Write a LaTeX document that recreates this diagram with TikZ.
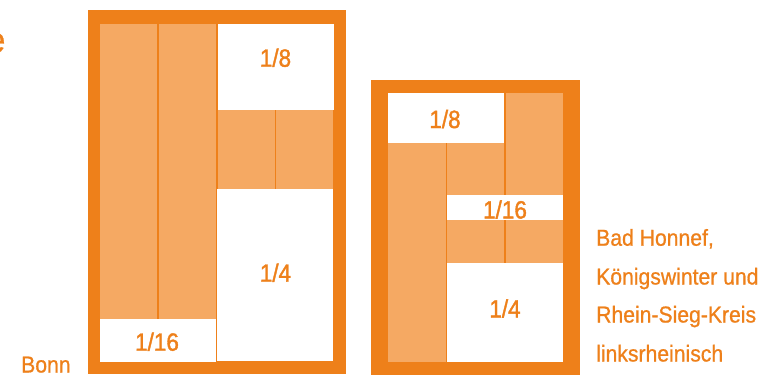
\documentclass[tikz,border=0pt]{standalone}
\usepackage{fontspec}
\setmainfont[FakeStretch=0.92, FakeBold=0.8]{Liberation Sans}
\newfontfamily\lblfont[FakeStretch=0.9, FakeBold=1.4]{Liberation Sans}
\definecolor{dorange}{HTML}{EE801A}
\definecolor{lorange}{HTML}{F5A963}
\tikzset{
  frame/.style={fill=dorange, draw=none},
  shade/.style={fill=lorange, draw=none},
  blank/.style={fill=white, draw=none},
  lbl/.style={text=dorange, inner sep=0pt, font=\lblfont\fontsize{25}{25}\selectfont},
  side/.style={text=dorange, inner sep=0pt, anchor=base west, font=\fontsize{23}{23}\selectfont}
}
\begin{document}
\begin{tikzpicture}[x=1pt, y=-1pt]
\clip (0,0) rectangle (769,376);
\fill[white] (0,0) rectangle (769,376);
% partial title letter at the left edge
\node[text=dorange, inner sep=0pt, anchor=base east, font=\fontsize{35}{35}\selectfont] (title) at (5.5,52) {e};
% ---- big box (Bonn)
\fill[frame] (88,10) rectangle (346,374);
\fill[shade] (100,24) rectangle (157,319);
\fill[shade] (158.6,24) rectangle (216,319);
\fill[blank] (100,319) rectangle (216,362);
\fill[blank] (217.6,24) rectangle (334,110);
\fill[shade] (217.6,110) rectangle (274.6,189);
\fill[shade] (276.2,110) rectangle (333,189);
\fill[blank] (217.2,189) rectangle (333,361);
\node[lbl, anchor=base] (b8) at (275.5,66.7) {1/8};
\node[lbl, anchor=base] (b4) at (275.5,281.7) {1/4};
\node[lbl, anchor=base] (b16) at (157,350.7) {1/16};
% ---- small box
\fill[frame] (371,80) rectangle (580,375);
\fill[shade] (388,143) rectangle (445.5,362);
\fill[blank] (388,93) rectangle (504,143);
\fill[shade] (505.6,93) rectangle (563,195);
\fill[shade] (447,143) rectangle (504,195);
\fill[blank] (447,195) rectangle (563,220);
\fill[shade] (447,220) rectangle (504,263);
\fill[shade] (505.6,220) rectangle (563,263);
\fill[blank] (447,263) rectangle (563,362);
\node[lbl, anchor=base] (s8) at (445,128) {1/8};
\node[lbl, anchor=base] (s16) at (505,218.5) {1/16};
\node[lbl, anchor=base] (s4) at (505,317.5) {1/4};
% ---- side labels
\node[side] (bonn) at (21,372.5) {Bonn};
\node[side] (l1) at (596,245.7) {Bad Honnef,};
\node[side] (l2) at (596,284.5) {Königswinter und};
\node[side] (l3) at (596,322.5) {Rhein-Sieg-Kreis};
\node[side] (l4) at (596,361.5) {linksrheinisch};
\end{tikzpicture}
\end{document}
